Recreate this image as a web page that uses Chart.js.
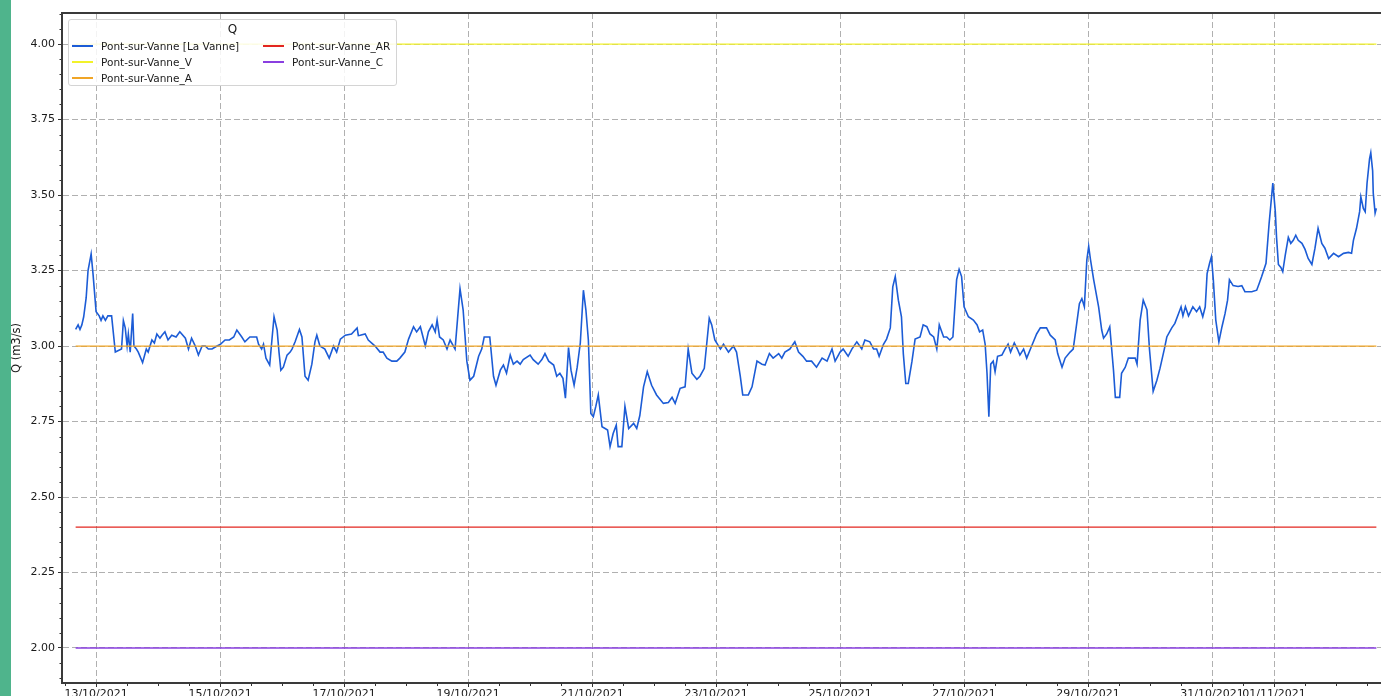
<!DOCTYPE html>
<html>
<head>
<meta charset="utf-8">
<script src="https://cdn.jsdelivr.net/npm/chart.js@4.4.0/dist/chart.umd.min.js"></script>
<style>
  html, body { margin: 0; padding: 0; background: #fff; }
  #frame { position: relative; width: 1381px; height: 696px; overflow: hidden; background: #fff; }
  #strip { position: absolute; left: 0; top: 0; width: 11px; height: 696px; background: #4fb48c; z-index: 3; }
  #wrap { position: absolute; left: 0; top: 0; width: 1400px; height: 710px; }
  #legend {
    position: absolute; left: 68px; top: 19px; width: 327px; height: 65px;
    border: 1px solid #d4d4d4; border-radius: 3px; background: rgba(255,255,255,0.85);
    font-family: "DejaVu Sans", sans-serif; color: #1a1a1a; z-index: 2;
  }
  #legend .ltitle { position: absolute; left: 0; right: 0; top: 2px; text-align: center; font-size: 12px; line-height: 14px; }
  #legend .item { position: absolute; display: flex; align-items: center; font-size: 10.5px; line-height: 14px; white-space: nowrap; }
  #legend .sw { display: inline-block; width: 21px; height: 0; border-top-width: 2px; border-top-style: solid; margin-right: 8px; }
</style>
</head>
<body>
<div id="frame">
  <div id="strip"></div>
  <div id="wrap"><canvas id="chart" width="1400" height="710"></canvas></div>
  <div id="legend"></div>
</div>
<script>
// time axis: days since 12/10/2021 00:00
const days = [
  0.67, 0.71, 0.74, 0.77, 0.80, 0.84, 0.87, 0.92, 0.95, 1.00, 1.05, 1.08, 1.11, 1.15, 1.19, 1.25,
  1.31, 1.41, 1.44, 1.47, 1.50, 1.52, 1.55, 1.59, 1.61, 1.65, 1.68, 1.75, 1.81, 1.84, 1.90, 1.94,
  1.98, 2.03, 2.06, 2.11, 2.16, 2.22, 2.29, 2.35, 2.44, 2.49, 2.54, 2.60, 2.65, 2.71, 2.76, 2.81,
  2.87, 2.95, 3.00, 3.08, 3.15, 3.22, 3.27, 3.35, 3.40, 3.48, 3.59, 3.62, 3.67, 3.70, 3.74, 3.80,
  3.84, 3.87, 3.92, 3.95, 3.98, 4.02, 4.08, 4.13, 4.16, 4.21, 4.28, 4.32, 4.37, 4.42, 4.48, 4.53,
  4.56, 4.61, 4.69, 4.76, 4.83, 4.88, 4.94, 5.02, 5.12, 5.21, 5.23, 5.26, 5.34, 5.39, 5.50, 5.58,
  5.63, 5.69, 5.77, 5.85, 5.90, 5.98, 6.04, 6.12, 6.17, 6.23, 6.31, 6.36, 6.42, 6.47, 6.50, 6.54,
  6.60, 6.66, 6.71, 6.79, 6.83, 6.87, 6.92, 6.98, 7.03, 7.09, 7.17, 7.22, 7.26, 7.35, 7.41, 7.45,
  7.52, 7.57, 7.62, 7.68, 7.73, 7.79, 7.84, 7.89, 8.00, 8.05, 8.13, 8.19, 8.24, 8.30, 8.38, 8.43,
  8.48, 8.53, 8.57, 8.62, 8.66, 8.71, 8.76, 8.81, 8.86, 8.90, 8.94, 8.98, 9.02, 9.06, 9.10, 9.16,
  9.21, 9.25, 9.29, 9.34, 9.39, 9.42, 9.48, 9.53, 9.59, 9.67, 9.72, 9.77, 9.83, 9.89, 9.96, 10.04,
  10.15, 10.23, 10.29, 10.34, 10.42, 10.50, 10.55, 10.61, 10.69, 10.74, 10.81, 10.89, 10.93, 10.98, 11.07, 11.12,
  11.20, 11.28, 11.33, 11.39, 11.43, 11.52, 11.58, 11.66, 11.74, 11.79, 11.86, 11.92, 12.01, 12.06, 12.11, 12.19,
  12.27, 12.33, 12.40, 12.46, 12.54, 12.62, 12.71, 12.79, 12.87, 12.92, 13.00, 13.05, 13.13, 13.19, 13.27, 13.35,
  13.40, 13.48, 13.54, 13.59, 13.63, 13.70, 13.75, 13.81, 13.85, 13.89, 13.94, 13.99, 14.02, 14.06, 14.10, 14.16,
  14.21, 14.29, 14.34, 14.40, 14.45, 14.51, 14.56, 14.60, 14.67, 14.72, 14.77, 14.82, 14.88, 14.92, 14.96, 15.00,
  15.07, 15.15, 15.21, 15.25, 15.30, 15.34, 15.37, 15.40, 15.43, 15.47, 15.50, 15.54, 15.61, 15.66, 15.71, 15.75,
  15.81, 15.86, 15.90, 15.96, 16.01, 16.07, 16.11, 16.17, 16.23, 16.33, 16.39, 16.47, 16.51, 16.58, 16.63, 16.71,
  16.76, 16.81, 16.86, 16.90, 16.94, 16.98, 17.01, 17.04, 17.09, 17.17, 17.22, 17.25, 17.30, 17.35, 17.41, 17.44,
  17.51, 17.54, 17.60, 17.65, 17.76, 17.79, 17.84, 17.89, 17.95, 17.99, 18.05, 18.11, 18.16, 18.23, 18.27, 18.35,
  18.40, 18.46, 18.50, 18.53, 18.57, 18.62, 18.69, 18.75, 18.80, 18.85, 18.89, 18.92, 18.96, 18.99, 19.02, 19.06,
  19.11, 19.16, 19.21, 19.25, 19.28, 19.34, 19.42, 19.48, 19.53, 19.64, 19.72, 19.76, 19.80, 19.87, 19.92, 19.98,
  20.02, 20.04, 20.07, 20.11, 20.14, 20.18, 20.23, 20.27, 20.31, 20.35, 20.39, 20.45, 20.50, 20.55, 20.61, 20.66,
  20.71, 20.77, 20.82, 20.88, 20.96, 21.04, 21.12, 21.20, 21.25, 21.28, 21.33, 21.38, 21.40, 21.44, 21.47, 21.50,
  21.54, 21.56, 21.59, 21.60, 21.63, 21.65
];

// Q (m3/s) at Pont-sur-Vanne [La Vanne]
const flow = [
  3.055, 3.07, 3.055, 3.07, 3.097, 3.16, 3.25, 3.305, 3.24, 3.114, 3.10, 3.085, 3.10, 3.085, 3.10, 3.10,
  2.98, 2.99, 3.084, 3.06, 3.00, 3.04, 2.98, 3.108, 3.00, 2.99, 2.98, 2.945, 2.99, 2.98, 3.02, 3.01,
  3.04, 3.026, 3.035, 3.047, 3.02, 3.036, 3.03, 3.047, 3.026, 2.99, 3.026, 3.00, 2.97, 3.00, 3.00, 2.99,
  2.99, 3.00, 3.005, 3.02, 3.02, 3.03, 3.053, 3.03, 3.014, 3.03, 3.03, 3.006, 2.99, 3.006, 2.96, 2.937,
  3.03, 3.097, 3.053, 2.98, 2.92, 2.93, 2.97, 2.98, 2.99, 3.014, 3.055, 3.03, 2.90, 2.887, 2.94, 3.014,
  3.036, 3.00, 2.99, 2.96, 3.00, 2.98, 3.023, 3.036, 3.04, 3.06, 3.035, 3.036, 3.04, 3.02, 3.00, 2.98,
  2.98, 2.96, 2.95, 2.95, 2.96, 2.98, 3.023, 3.064, 3.047, 3.064, 3.00, 3.047, 3.07, 3.047, 3.086, 3.03,
  3.02, 2.99, 3.02, 2.99, 3.09, 3.19, 3.12, 2.95, 2.887, 2.90, 2.966, 2.99, 3.03, 3.03, 2.90, 2.87,
  2.92, 2.937, 2.91, 2.97, 2.94, 2.95, 2.94, 2.955, 2.97, 2.955, 2.94, 2.955, 2.975, 2.95, 2.937, 2.90,
  2.91, 2.893, 2.827, 2.995, 2.92, 2.87, 2.93, 3.01, 3.185, 3.12, 3.02, 2.777, 2.766, 2.80, 2.838, 2.733,
  2.727, 2.722, 2.667, 2.71, 2.738, 2.667, 2.667, 2.80, 2.727, 2.744, 2.727, 2.77, 2.865, 2.915, 2.87, 2.838,
  2.81, 2.813, 2.83, 2.81, 2.86, 2.865, 2.99, 2.91, 2.89, 2.90, 2.926, 3.092, 3.07, 3.02, 2.99, 3.006,
  2.98, 3.00, 2.98, 2.90, 2.838, 2.838, 2.865, 2.95, 2.94, 2.937, 2.975, 2.96, 2.975, 2.96, 2.98, 2.99,
  3.014, 2.98, 2.966, 2.95, 2.95, 2.93, 2.96, 2.95, 2.99, 2.95, 2.98, 2.99, 2.966, 2.99, 3.014, 2.99,
  3.02, 3.014, 2.99, 2.99, 2.966, 3.006, 3.023, 3.06, 3.196, 3.23, 3.152, 3.097, 2.975, 2.876, 2.876, 2.95,
  3.023, 3.03, 3.07, 3.064, 3.04, 3.03, 2.99, 3.07, 3.03, 3.03, 3.02, 3.03, 3.22, 3.254, 3.23, 3.13,
  3.097, 3.086, 3.07, 3.047, 3.053, 3.006, 2.91, 2.766, 2.94, 2.95, 2.915, 2.966, 2.97, 2.99, 3.006, 2.98,
  3.01, 2.99, 2.97, 2.99, 2.96, 2.99, 3.01, 3.04, 3.06, 3.06, 3.036, 3.02, 2.975, 2.93, 2.96, 2.98,
  2.99, 3.064, 3.14, 3.157, 3.13, 3.285, 3.33, 3.285, 3.22, 3.13, 3.053, 3.026, 3.04, 3.064, 2.92, 2.83,
  2.83, 2.91, 2.93, 2.96, 2.96, 2.94, 3.086, 3.152, 3.12, 2.99, 2.85, 2.887, 2.926, 2.99, 3.03, 3.06,
  3.075, 3.108, 3.13, 3.10, 3.13, 3.10, 3.13, 3.114, 3.13, 3.097, 3.13, 3.24, 3.274, 3.296, 3.22, 3.086,
  3.014, 3.064, 3.108, 3.152, 3.22, 3.20, 3.197, 3.20, 3.18, 3.18, 3.185, 3.207, 3.23, 3.274, 3.406, 3.54,
  3.445, 3.36, 3.27, 3.26, 3.246, 3.30, 3.36, 3.34, 3.35, 3.367, 3.35, 3.34, 3.32, 3.29, 3.27, 3.324,
  3.39, 3.34, 3.324, 3.29, 3.307, 3.296, 3.307, 3.31, 3.307, 3.35, 3.39, 3.445, 3.494, 3.456, 3.445, 3.54,
  3.62, 3.64, 3.58, 3.506, 3.44, 3.456
];

// threshold levels
const seriesNames = ['Pont-sur-Vanne [La Vanne]', 'Pont-sur-Vanne_V', 'Pont-sur-Vanne_A', 'Pont-sur-Vanne_AR', 'Pont-sur-Vanne_C'];
const levelV = 4.00;
const levelA = 3.00;
const levelAR = 2.40;
const levelC = 2.00;

// tick labels
const tickDays = [1, 3, 5, 7, 9, 11, 13, 15, 17, 19, 20];
const tickLabels = ['13/10/2021', '15/10/2021', '17/10/2021', '19/10/2021', '21/10/2021', '23/10/2021',
  '25/10/2021', '27/10/2021', '29/10/2021', '31/10/2021', '01/11/2021'];
const yTicks = [2.00, 2.25, 2.50, 2.75, 3.00, 3.25, 3.50, 3.75, 4.00];

const FONT = "'DejaVu Sans', sans-serif";
const first = days[0], last = days[days.length - 1];
const flat = v => [{x: first, y: v}, {x: last, y: v}];

const datasets = [
  { label: seriesNames[0], data: days.map((d, i) => ({x: d, y: flow[i]})), borderColor: '#1c5cd6', borderWidth: 1.6, order: 1 },
  { label: seriesNames[1], data: flat(levelV), borderColor: '#f2f22a', borderWidth: 1.2, order: 0 },
  { label: seriesNames[2], data: flat(levelA), borderColor: '#f0a526', borderWidth: 1.2, order: 0 },
  { label: seriesNames[3], data: flat(levelAR), borderColor: '#e3261f', borderWidth: 1.2, order: 0 },
  { label: seriesNames[4], data: flat(levelC), borderColor: '#8a3fe0', borderWidth: 1.5, order: 0 }
];

// small ticks between the labelled ones + top spine
const minorTicks = {
  id: 'minorTicks',
  afterDraw(chart) {
    const {ctx, chartArea: a, scales: {x, y}} = chart;
    ctx.save();
    ctx.strokeStyle = '#333';
    ctx.lineWidth = 1;
    ctx.beginPath();
    for (let i = 38; i <= 82; i++) {
      if (i % 5 === 0) continue;
      const py = Math.round(y.getPixelForValue(i * 0.05)) + 0.5;
      if (py < a.top || py > a.bottom) continue;
      ctx.moveTo(a.left - 2.5, py);
      ctx.lineTo(a.left - 1, py);
    }
    for (let k = 1; k <= 43; k++) {
      const t = k * 0.5;
      if (tickDays.includes(t)) continue;
      const px = Math.round(x.getPixelForValue(t)) + 0.5;
      ctx.moveTo(px, a.bottom + 1);
      ctx.lineTo(px, a.bottom + 3);
    }
    ctx.stroke();
    ctx.lineWidth = 2;
    ctx.strokeStyle = '#3a3a3a';
    ctx.beginPath();
    ctx.moveTo(a.left - 1, a.top);
    ctx.lineTo(a.right, a.top);
    ctx.stroke();
    ctx.restore();
  }
};

// two-column legend like the original figure
const htmlLegend = {
  id: 'htmlLegend',
  afterUpdate(chart) {
    const box = document.getElementById('legend');
    box.innerHTML = '<div class="ltitle">Q</div>';
    chart.data.datasets.forEach((ds, i) => {
      const col = i < 3 ? 0 : 1;
      const row = i < 3 ? i : i - 3;
      const item = document.createElement('div');
      item.className = 'item';
      item.style.left = (col ? 194 : 3) + 'px';
      item.style.top = (18.5 + row * 16.3) + 'px';
      const sw = document.createElement('span');
      sw.className = 'sw';
      sw.style.borderTopColor = ds.borderColor;
      const txt = document.createElement('span');
      txt.textContent = ds.label;
      item.appendChild(sw);
      item.appendChild(txt);
      box.appendChild(item);
    });
  }
};

const ctx = document.getElementById('chart').getContext('2d');
const myChart = new Chart(ctx, {
  type: 'line',
  data: { datasets: datasets },
  options: {
    responsive: false,
    animation: false,
    layout: { padding: { left: 0, top: 13, right: 10, bottom: 0 } },
    elements: { point: { radius: 0 }, line: { tension: 0 } },
    plugins: { legend: { display: false }, tooltip: { enabled: false } },
    scales: {
      x: {
        type: 'linear',
        bounds: 'data',
        min: 0.45,
        max: 21.87,
        afterBuildTicks: s => { s.ticks = tickDays.map(v => ({value: v})); },
        afterFit: s => { s.height = 710 - 683; },
        ticks: {
          autoSkip: false, maxRotation: 0, minRotation: 0, padding: 1,
          color: '#1a1a1a', font: { family: FONT, size: 11 },
          callback: (v, i) => tickLabels[i]
        },
        grid: { color: '#b0b0b0', lineWidth: 1, tickLength: 4, tickColor: '#333', tickWidth: 1, tickBorderDash: [] },
        border: { display: true, color: '#3a3a3a', width: 2, dash: [6, 3] }
      },
      y: {
        bounds: 'data',
        min: 1.884,
        max: 4.103,
        afterBuildTicks: s => { s.ticks = yTicks.map(v => ({value: v})); },
        afterFit: s => { s.width = 62; },
        title: { display: true, text: 'Q (m3/s)', color: '#1a1a1a', font: { family: FONT, size: 11.5 }, padding: { top: 10, bottom: 0 } },
        ticks: { padding: 3, color: '#1a1a1a', font: { family: FONT, size: 11 }, callback: v => v.toFixed(2) },
        grid: { color: '#b0b0b0', lineWidth: 1, tickLength: 4, tickColor: '#333', tickWidth: 1, tickBorderDash: [] },
        border: { display: true, color: '#3a3a3a', width: 2, dash: [6, 3] }
      }
    }
  },
  plugins: [minorTicks, htmlLegend]
});
</script>
</body>
</html>
